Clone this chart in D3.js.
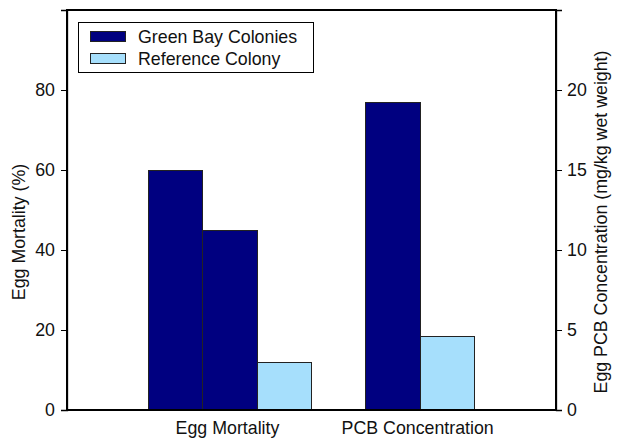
<!DOCTYPE html>
<html>
<head>
<meta charset="utf-8">
<script src="https://cdn.jsdelivr.net/npm/d3@7"></script>
<style>
  html, body { margin: 0; padding: 0; background: #fff; }
  svg { display: block; font-family: "Liberation Sans", Arial, sans-serif; }
</style>
</head>
<body>
<svg id="chart" width="619" height="439"></svg>
<script>
// ---- data ----
const categories = ["Egg Mortality", "PCB Concentration"];
const seriesNames = ["Green Bay Colonies", "Reference Colony"];
// Egg mortality (%) – left axis
const mortalityGreenBay = [60, 45];
const mortalityReference = [12];
// Egg PCB concentration (mg/kg wet weight) – right axis
const pcbGreenBay = [19.2];
const pcbReference = [4.6];
const leftTicks = [0, 20, 40, 60, 80];
const rightTicks = [0, 5, 10, 15, 20];
const leftTitle = "Egg Mortality (%)";
const rightTitle = "Egg PCB Concentration (mg/kg wet weight)";

// ---- layout ----
const FS = 17.8;
const svg = d3.select("#chart");
const m = { left: 67, right: 556, top: 10, bottom: 410 };
const colors = { "Green Bay Colonies": "#000080", "Reference Colony": "#a6dffc" };

// bars list (slot key, value, axis, series)
const bars = [];
mortalityGreenBay.forEach((v, i) => bars.push({ key: "m-gb" + i, cat: categories[0], value: v, axis: "left", series: seriesNames[0] }));
mortalityReference.forEach((v, i) => bars.push({ key: "m-ref" + i, cat: categories[0], value: v, axis: "left", series: seriesNames[1] }));
bars.push({ key: "gap", cat: null, value: null });
pcbGreenBay.forEach((v, i) => bars.push({ key: "p-gb" + i, cat: categories[1], value: v, axis: "right", series: seriesNames[0] }));
pcbReference.forEach((v, i) => bars.push({ key: "p-ref" + i, cat: categories[1], value: v, axis: "right", series: seriesNames[1] }));

const x = d3.scaleBand()
  .domain(bars.map(d => d.key))
  .range([m.left, m.right])
  .paddingInner(0)
  .paddingOuter(1.5);

const yL = d3.scaleLinear().domain([0, 100]).range([m.bottom, m.top]);
const yR = d3.scaleLinear().domain([0, 25]).range([m.bottom, m.top]);

// bars
svg.append("g").selectAll("rect")
  .data(bars.filter(d => d.value !== null))
  .join("rect")
  .attr("x", d => x(d.key))
  .attr("width", x.bandwidth())
  .attr("y", d => (d.axis === "left" ? yL : yR)(d.value))
  .attr("height", d => m.bottom - (d.axis === "left" ? yL : yR)(d.value))
  .attr("fill", d => colors[d.series])
  .attr("stroke", "#222")
  .attr("stroke-width", 1)
  .attr("shape-rendering", "crispEdges");

// plot frame
svg.append("rect")
  .attr("x", m.left).attr("y", m.top)
  .attr("width", m.right - m.left).attr("height", m.bottom - m.top)
  .attr("fill", "none").attr("stroke", "#000").attr("stroke-width", 1.3)
  .attr("shape-rendering", "crispEdges");

// axes
const axisL = d3.axisLeft(yL).tickValues(leftTicks).tickSize(6).tickPadding(6);
const axisR = d3.axisRight(yR).tickValues(rightTicks).tickSize(6).tickPadding(5);
const gL = svg.append("g").attr("transform", `translate(${m.left},0)`).call(axisL);
const gR = svg.append("g").attr("transform", `translate(${m.right},0)`).call(axisR);
[gL, gR].forEach(g => {
  g.select(".domain").attr("stroke", "#000").attr("stroke-width", 1.3);
  g.selectAll(".tick line").attr("stroke", "#000");
  g.selectAll(".tick text").attr("font-size", FS).attr("fill", "#111")
    .attr("font-family", "'Liberation Sans', Arial, sans-serif");
});

// category labels
const catCenter = c => {
  const ks = bars.filter(d => d.cat === c);
  const a = x(ks[0].key), b = x(ks[ks.length - 1].key) + x.bandwidth();
  return (a + b) / 2;
};
svg.append("g").selectAll("text")
  .data(categories)
  .join("text")
  .attr("x", d => catCenter(d) - 2.5)
  .attr("y", 434)
  .attr("text-anchor", "middle")
  .attr("font-size", FS)
  .attr("fill", "#111")
  .text(d => d);

// axis titles
svg.append("text")
  .attr("transform", "translate(25,232) rotate(-90)")
  .attr("text-anchor", "middle")
  .attr("font-size", FS).attr("fill", "#111")
  .text(leftTitle);
svg.append("text")
  .attr("transform", "translate(607,222) rotate(-90)")
  .attr("text-anchor", "middle")
  .attr("font-size", FS).attr("fill", "#111")
  .text(rightTitle);

// legend
const lg = svg.append("g");
lg.append("rect")
  .attr("x", 78.5).attr("y", 22.5).attr("width", 235).attr("height", 50)
  .attr("fill", "#fff").attr("stroke", "#000").attr("stroke-width", 1);
seriesNames.forEach((s, i) => {
  lg.append("rect")
    .attr("x", 90.5).attr("y", 31.5 + i * 22).attr("width", 35).attr("height", 10)
    .attr("fill", colors[s]).attr("stroke", "#222").attr("stroke-width", 1);
  lg.append("text")
    .attr("x", 138).attr("y", 42.5 + i * 22)
    .attr("font-size", FS).attr("fill", "#111")
    .text(s);
});
</script>
</body>
</html>
